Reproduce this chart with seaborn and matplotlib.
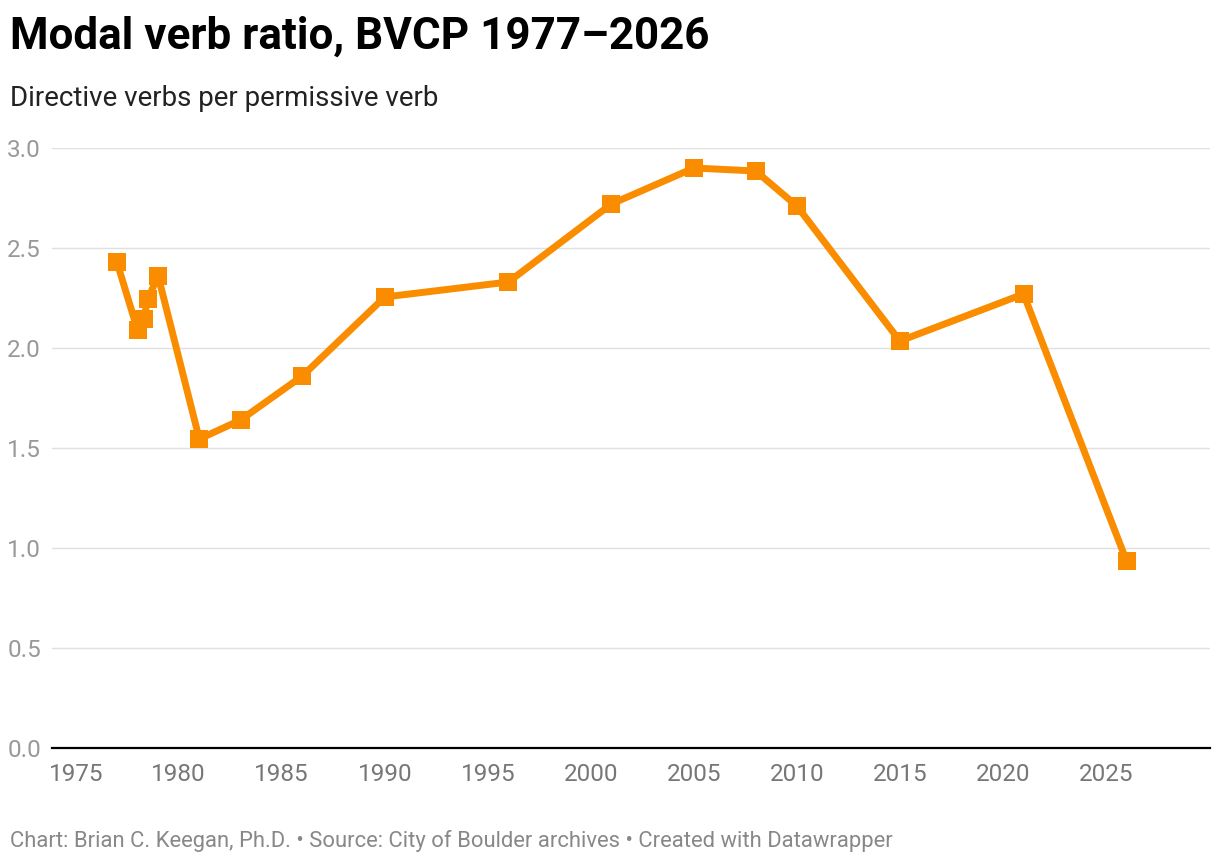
import matplotlib
matplotlib.use("Agg")
import matplotlib.pyplot as plt
import seaborn as sns
import pandas as pd

years = [1977, 1978, 1978.3, 1978.5, 1979, 1981, 1983, 1986, 1990, 1996,
         2001, 2005, 2008, 2010, 2015, 2021, 2026]
ratio = [2.43, 2.09, 2.145, 2.245, 2.36, 1.545, 1.64, 1.86, 2.255, 2.33,
         2.72, 2.90, 2.885, 2.71, 2.035, 2.27, 0.935]
x_ticks = [1975, 1980, 1985, 1990, 1995, 2000, 2005, 2010, 2015, 2020, 2025]
y_ticks = [0.0, 0.5, 1.0, 1.5, 2.0, 2.5, 3.0]

title = "Modal verb ratio, BVCP 1977\u20132026"
subtitle = "Directive verbs per permissive verb"
footer = "Chart: Brian C. Keegan, Ph.D. \u2022 Source: City of Boulder archives \u2022 Created with Datawrapper"

df = pd.DataFrame({"year": years, "ratio": ratio})

sns.set_theme(style="white")
plt.rcParams["font.family"] = ["Roboto", "DejaVu Sans"]

W, H = 1220, 864
fig = plt.figure(figsize=(W / 100, H / 100), dpi=100)
ax = fig.add_axes([52 / W, 1 - 748 / H, (1210 - 52) / W, (748 - 148) / H])

color = "#FA8C00"
sns.lineplot(data=df, x="year", y="ratio", ax=ax, color=color, linewidth=5,
             marker="s", markersize=13, markeredgewidth=0, sort=False, clip_on=False,
             zorder=3)

ax.set_xlim(1973.85, 2030.05)
ax.set_ylim(0, 3.0)
ax.set_xticks(x_ticks)
ax.set_yticks(y_ticks)
ax.set_xticklabels([str(t) for t in x_ticks])
ax.set_yticklabels([f"{t:.1f}" for t in y_ticks])
ax.set_xlabel("")
ax.set_ylabel("")
for s in ["top", "right", "left"]:
    ax.spines[s].set_visible(False)
ax.spines["bottom"].set_color("#000000")
ax.spines["bottom"].set_linewidth(1.6)
ax.grid(axis="y", color="#e0e0e0", linewidth=1.0)
ax.set_axisbelow(True)
ax.tick_params(axis="both", length=0, labelsize=17.5)
ax.tick_params(axis="x", labelcolor="#777777", pad=11)
ax.tick_params(axis="y", labelcolor="#999999", pad=8)

fig.text(10 / W, 1 - 37 / H, title, fontsize=31.7, fontweight="bold", color="#000000",
         va="center", ha="left")
fig.text(10 / W, 1 - 98 / H, subtitle, fontsize=20, color="#222222",
         va="center", ha="left")
fig.text(10 / W, 1 - 841 / H, footer, fontsize=15.8, color="#888888",
         va="center", ha="left")

fig.savefig("out.png", dpi=100)
